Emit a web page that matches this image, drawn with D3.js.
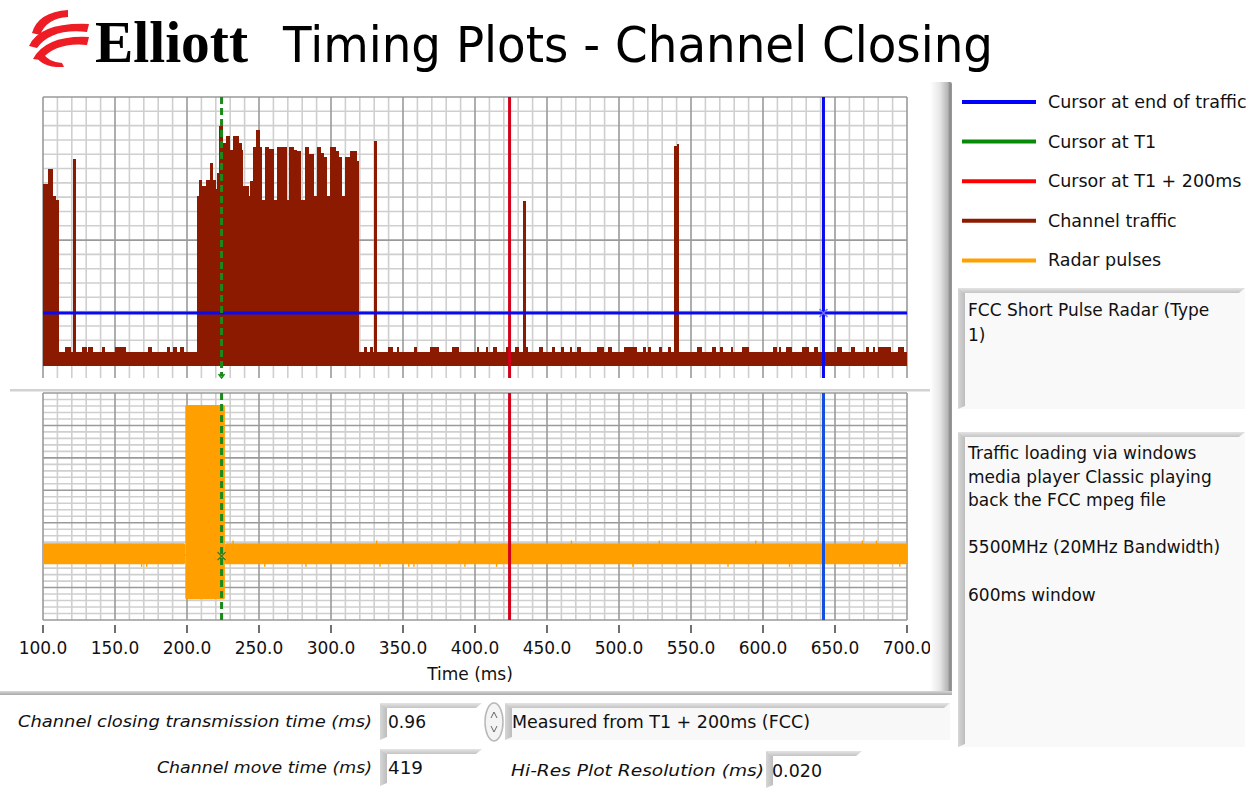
<!DOCTYPE html>
<html>
<head>
<meta charset="utf-8">
<script src="https://cdn.jsdelivr.net/npm/d3@7"></script>
<style>
  body { margin: 0; background: #fff; }
  svg { display: block; font-family: "DejaVu Sans", sans-serif; }
</style>
</head>
<body>
<svg id="chart" width="1254" height="797"></svg>
<script>
// ---- data ----
const timeTicks = [100, 150, 200, 250, 300, 350, 400, 450, 500, 550, 600, 650, 700];

const cursorT1 = 224;
const cursorT1plus200 = 424;
const cursorEndTraffic = 642;
const cursorLevel = -51;      // blue horizontal cursor (top plot)

const trafficFloor = -78;
const trafficBumpLevel = -75;
// [start ms, end ms, level]
const trafficBursts = [
  [100, 103.7, 39], [103.7, 106.7, 50], [106.7, 109, 31], [109, 110.6, 28],
  [120.6, 122.9, 57],
  [206.7, 208.5, 31], [208.5, 210.2, 42], [210.2, 213.2, 38], [213.2, 216, 42],
  [216, 217.8, 54], [217.8, 219.7, 42], [219.7, 221, 36], [221, 222.4, 47],
  [222.4, 224.8, 80], [224.8, 227.1, 68], [227.1, 229.4, 73], [229.4, 231.7, 63],
  [231.7, 235.6, 73], [235.6, 237.5, 68], [237.5, 238.7, 63], [238.7, 242.6, 38],
  [242.6, 243.7, 31], [243.7, 246, 41], [246, 247.9, 65], [247.9, 250.2, 77],
  [250.2, 251.9, 65], [251.9, 254.2, 28], [254.2, 256.5, 65], [256.5, 260, 64],
  [260, 262.3, 28], [262.3, 268.8, 65], [268.8, 271.1, 28], [271.1, 273.9, 65],
  [273.9, 276.2, 63], [276.2, 278.5, 62], [278.5, 282, 28], [282, 284.2, 65],
  [284.2, 287.7, 60], [287.7, 290, 31], [290, 292.4, 65], [292.4, 294.7, 61],
  [294.7, 297, 58], [297, 299.3, 31], [299.3, 302.8, 65], [302.8, 305, 62],
  [305, 307.4, 58], [307.4, 309.7, 31], [309.7, 313.2, 58], [313.2, 317.8, 62],
  [317.8, 319, 55],
  [329.6, 331.3, 69],
  [433, 435.4, 27],
  [537.9, 540.5, 66], [540.5, 541.4, 67.5]
];
// small steps on the noise floor [start ms, end ms]
const floorBumps = [
  [115.3, 119.2], [126.9, 130.3], [131.5, 135], [140.7, 143.1], [150, 157.6],
  [173.2, 175.5], [185.9, 188.2], [190, 192.8], [195.1, 197.9],
  [322.8, 325.3], [327, 329.4], [339.7, 343], [345.5, 347.2], [357.3, 359.9],
  [368.7, 375], [384.3, 388.9], [401.5, 402.7], [407.8, 409], [412.8, 415.3],
  [421.6, 424.2], [428, 430.5], [434.3, 436.8], [444.3, 446.9], [453.2, 455.7],
  [459.5, 462], [465.8, 467.5], [470.8, 473.4], [484.7, 489.7], [492.3, 494.8],
  [503.6, 512.4], [517, 518.7], [520, 522.5], [527.6, 529.6], [533.9, 536.4],
  [554, 557.3], [564.9, 567.4], [569.9, 572.5], [578, 579.5], [585.6, 590.6],
  [607, 609.5], [610.8, 612.8], [615.8, 620.4], [627.2, 632.2], [635.5, 638.5],
  [651.2, 655], [661.2, 663.8], [671.3, 673.8], [676.4, 677.6], [680.2, 689],
  [694, 697.8]
];

// radar envelope [start ms, end ms, low, high]
const radarBands = [
  [100, 198.8, 1.72, 2.37],
  [198.8, 226.3, 0.64, 6.63],
  [226.3, 700, 1.72, 2.37]
];
const radarSpikesUp = [232, 331.7, 389, 467, 528, 595, 669, 678.8];
const radarSpikesDown = [168.5, 172, 254, 282.6, 334, 354, 357.6, 393, 415, 509.7, 575.7, 618.4, 695];

const legendItems = [
  { name: "Cursor at end of traffic", color: "#0000ff" },
  { name: "Cursor at T1", color: "#078a07" },
  { name: "Cursor at T1 + 200ms", color: "#ff0000" },
  { name: "Channel traffic", color: "#8b1a00" },
  { name: "Radar pulses", color: "#ffa000" }
];

const noteBox1 = ["FCC Short Pulse Radar (Type", "1)"];
const noteBox2 = ["Traffic loading via windows", "media player Classic playing",
  "back the FCC mpeg file", "", "5500MHz (20MHz Bandwidth)", "", "600ms window"];

const fieldClosing = "0.96";
const fieldMove = "419";
const fieldResolution = "0.020";
const fieldMeasured = "Measured from T1 + 200ms (FCC)";

// ---- setup ----
const svg = d3.select("#chart");
const defs = svg.append("defs");

function hGrad(id, stops) {
  const g = defs.append("linearGradient").attr("id", id)
    .attr("x1", 0).attr("y1", 0).attr("x2", 1).attr("y2", 0);
  stops.forEach(s => g.append("stop").attr("offset", s[0]).attr("stop-color", s[1]));
}
function vGrad(id, stops) {
  const g = defs.append("linearGradient").attr("id", id)
    .attr("x1", 0).attr("y1", 0).attr("x2", 0).attr("y2", 1);
  stops.forEach(s => g.append("stop").attr("offset", s[0]).attr("stop-color", s[1]));
}
hGrad("frameBar", [[0, "#ffffff"], [0.45, "#e6e6e6"], [0.82, "#b4b4b4"], [0.9, "#8a8a8a"], [1, "#9a9a9a"]]);
vGrad("frameBottom", [[0, "#d8d8d8"], [1, "#a8a8a8"]]);
vGrad("bevelTop", [[0, "#e4e4e4"], [1, "#c4c4c4"]]);
hGrad("bevelLeft", [[0, "#d6d6d6"], [1, "#bdbdbd"]]);

const x = d3.scaleLinear().domain([100, 700]).range([43, 907]);
const yTop = d3.scaleLinear().domain([-88, 100]).range([366, 97]);
const yBot = d3.scaleLinear().domain([0, 7]).range([620, 393]);

// ---- title / logo ----
const logo = svg.append("g").attr("fill", "#ee1c25");
logo.append("path").attr("d", "M32,33 Q38,12 68,10 L68,17 Q47,18 40,35 Z");
logo.append("path").attr("d", "M29,46 Q40,22 89,24 L87,32 Q52,28 37,48 Z");
logo.append("path").attr("d", "M33,59 Q46,35 89,37 L87,45 Q56,42 41,60 Z");
logo.append("path").attr("d", "M36,56 Q42,68 64,67 L62,63 Q48,62 43,53 Z");

svg.append("text").attr("x", 95).attr("y", 62)
  .attr("font-family", "'Liberation Serif', serif").attr("font-weight", "bold")
  .attr("font-size", 60).attr("textLength", 153).attr("lengthAdjust", "spacingAndGlyphs")
  .text("Elliott");

svg.append("text").attr("x", 283).attr("y", 62)
  .attr("font-size", 50).attr("textLength", 710).attr("lengthAdjust", "spacingAndGlyphs")
  .text("Timing Plots - Channel Closing");

// ---- grids ----
const minorColor = "#cfcfcf", majorColor = "#9a9a9a";
const vTicks = x.ticks(60);

function drawGrid(g, yScale, yTicks, isMajorY, top, bottom, vBottom) {
  const vLines = vTicks.map(t => ({ t, major: t % 50 === 0 }));
  const hLines = yTicks.map(v => ({ v, major: isMajorY(v) }));
  [false, true].forEach(maj => {
    g.selectAll(null).data(vLines.filter(d => d.major === maj)).enter().append("line")
      .attr("x1", d => x(d.t)).attr("x2", d => x(d.t))
      .attr("y1", top).attr("y2", vBottom)
      .attr("stroke", maj ? majorColor : minorColor).attr("stroke-width", 1.6);
    g.selectAll(null).data(hLines.filter(d => d.major === maj)).enter().append("line")
      .attr("x1", x(100)).attr("x2", x(700))
      .attr("y1", d => yScale(d.v)).attr("y2", d => yScale(d.v))
      .attr("stroke", maj ? majorColor : minorColor).attr("stroke-width", 1.6);
  });
}

const topG = svg.append("g");
drawGrid(topG, yTop, yTop.ticks(20), v => v % 100 === 0, 97, 366, 378);

const botG = svg.append("g");
drawGrid(botG, yBot, yBot.ticks(35), v => Math.abs(v - Math.round(v)) < 1e-6, 393, 620, 620);

// ---- channel traffic ----
const trafficColor = "#8b1a00";
const tg = topG.append("g").attr("fill", trafficColor).attr("shape-rendering", "crispEdges");
tg.append("rect")
  .attr("x", x(100)).attr("width", x(700) - x(100))
  .attr("y", yTop(trafficFloor)).attr("height", yTop(-88) - yTop(trafficFloor));
tg.selectAll(".bump").data(floorBumps).enter().append("rect")
  .attr("x", d => x(d[0])).attr("width", d => x(d[1]) - x(d[0]))
  .attr("y", yTop(trafficBumpLevel)).attr("height", yTop(-88) - yTop(trafficBumpLevel));
tg.selectAll(".burst").data(trafficBursts).enter().append("rect")
  .attr("x", d => x(d[0])).attr("width", d => x(d[1]) - x(d[0]) + 0.5)
  .attr("y", d => yTop(d[2])).attr("height", d => yTop(-88) - yTop(d[2]));

// ---- radar pulses ----
const radarColor = "#ffa000";
const rg = botG.append("g").attr("fill", radarColor);
rg.selectAll(".band").data(radarBands).enter().append("rect")
  .attr("x", d => x(d[0])).attr("width", d => x(d[1]) - x(d[0]))
  .attr("y", d => yBot(d[3])).attr("height", d => yBot(d[2]) - yBot(d[3]))
  .attr("rx", 1.5);
rg.selectAll(".up").data(radarSpikesUp).enter().append("rect")
  .attr("x", d => x(d) - 0.7).attr("width", 1.4)
  .attr("y", yBot(2.45)).attr("height", yBot(2.2) - yBot(2.45));
rg.selectAll(".down").data(radarSpikesDown).enter().append("rect")
  .attr("x", d => x(d) - 0.7).attr("width", 1.4)
  .attr("y", yBot(1.9)).attr("height", yBot(1.64) - yBot(1.9));

// ---- cursors ----
function vCursor(t, color, width, top, bottom, dash) {
  svg.append("line").attr("x1", x(t)).attr("x2", x(t)).attr("y1", top).attr("y2", bottom)
    .attr("stroke", color).attr("stroke-width", width)
    .attr("stroke-dasharray", dash || null);
}
vCursor(cursorT1plus200, "#d4001c", 3, 97, 378);
vCursor(cursorT1plus200, "#d4001c", 3, 393, 620);
vCursor(cursorEndTraffic, "#0a0af0", 3, 97, 378);
vCursor(cursorEndTraffic, "#1450dc", 3, 393, 620);

svg.append("line").attr("x1", x(100)).attr("x2", x(700))
  .attr("y1", yTop(cursorLevel)).attr("y2", yTop(cursorLevel))
  .attr("stroke", "#0a0af0").attr("stroke-width", 3);

vCursor(cursorT1, "#1a8a1a", 3, 97, 376, "7,4");
vCursor(cursorT1, "#1a8a1a", 3, 393, 620, "7,4");

// cursor markers
svg.append("path")
  .attr("transform", `translate(${x(cursorEndTraffic)},${yTop(cursorLevel)})`)
  .attr("d", "M-4,-4L4,4M-4,4L4,-4").attr("stroke", "#7070ff").attr("stroke-width", 1.5);
svg.append("path")
  .attr("transform", `translate(${x(cursorT1)},${yBot(1.97)})`)
  .attr("d", "M-4,-4L4,4M-4,4L4,-4").attr("stroke", "#2a7a2a").attr("stroke-width", 1.3)
  .attr("fill", "none");
svg.append("path")
  .attr("transform", `translate(${x(cursorT1)},376)`)
  .attr("d", "M-3,-2L0,2L3,-2").attr("stroke", "#1a8a1a").attr("stroke-width", 1.5)
  .attr("fill", "none");

// ---- x axis ----
const axisG = svg.append("g");
axisG.selectAll("line").data(timeTicks).enter().append("line")
  .attr("x1", d => x(d)).attr("x2", d => x(d)).attr("y1", 625).attr("y2", 633)
  .attr("stroke", "#222").attr("stroke-width", 1.3);
axisG.selectAll("text").data(timeTicks).enter().append("text")
  .attr("x", d => x(d)).attr("y", 654).attr("text-anchor", "middle")
  .attr("font-size", 17).attr("fill", "#111")
  .text(d => d3.format(".1f")(d));
svg.append("text").attr("x", 470).attr("y", 680).attr("text-anchor", "middle")
  .attr("font-size", 17).attr("fill", "#111").text("Time (ms)");

// separator between the plots
svg.append("rect").attr("x", 10).attr("y", 389).attr("width", 920).attr("height", 2.5).attr("fill", "#d2d2d2");

// ---- panel frame ----
svg.append("rect").attr("x", 930).attr("y", 82).attr("width", 22).attr("height", 612)
  .attr("fill", "url(#frameBar)").attr("rx", 2);
svg.append("rect").attr("x", 0).attr("y", 691).attr("width", 952).attr("height", 4)
  .attr("fill", "url(#frameBottom)");

// ---- legend ----
const lg = svg.append("g");
legendItems.forEach((d, i) => {
  const cy = 102 + i * 39.6;
  lg.append("line").attr("x1", 962).attr("x2", 1036).attr("y1", cy).attr("y2", cy)
    .attr("stroke", d.color).attr("stroke-width", 4);
  lg.append("text").attr("x", 1048).attr("y", cy + 6).attr("font-size", 17.5)
    .attr("fill", "#111").text(d.name);
});

// ---- bevelled boxes ----
function box(x0, y0, w, h, fill) {
  const g = svg.append("g");
  g.append("rect").attr("x", x0).attr("y", y0).attr("width", w).attr("height", h).attr("fill", fill);
  g.append("path").attr("d", `M${x0},${y0}H${x0 + w}L${x0 + w - 6},${y0 + 5}H${x0 + 7}Z`)
    .attr("fill", "url(#bevelTop)");
  g.append("path").attr("d", `M${x0},${y0}L${x0 + 7},${y0 + 5}V${y0 + h - 3}L${x0},${y0 + h}Z`)
    .attr("fill", "url(#bevelLeft)");
  return g;
}

function textLines(lines, x0, y0, step) {
  const t = svg.append("text").attr("font-size", 17).attr("fill", "#111");
  lines.forEach((s, i) => {
    t.append("tspan").attr("x", x0).attr("y", y0 + i * step).text(s);
  });
}

box(958, 288, 287, 121, "#f9f9f9");
textLines(noteBox1, 968, 316, 24.5);
box(958, 432, 287, 315, "#f9f9f9");
textLines(noteBox2, 968, 459, 23.6);

// ---- bottom fields ----
function label(s, xr, y, w) {
  svg.append("text").attr("x", xr - w).attr("y", y).attr("font-size", 16.5)
    .attr("font-style", "italic").attr("fill", "#111")
    .attr("textLength", w).attr("lengthAdjust", "spacingAndGlyphs").text(s);
}
label("Channel closing transmission time (ms)", 372, 727, 354);
label("Channel move time (ms)", 372, 773, 215);
label("Hi-Res Plot Resolution (ms)", 764, 776, 253);

box(380, 703, 102, 37, "#ffffff");
box(505, 703, 445, 37, "#f8f8f8");
box(380, 749, 102, 37, "#ffffff");
box(766, 751, 96, 37, "#ffffff");

function value(s, x0, y, w) {
  svg.append("text").attr("x", x0).attr("y", y).attr("font-size", 17).attr("fill", "#111")
    .attr("textLength", w).attr("lengthAdjust", "spacingAndGlyphs").text(s);
}
value(fieldClosing, 388, 728, 38);
value(fieldMeasured, 512, 728, 298);
value(fieldMove, 388, 774, 35);
value(fieldResolution, 772, 777, 50);

// spinner
const sp = svg.append("g");
sp.append("ellipse").attr("cx", 494).attr("cy", 722).attr("rx", 9).attr("ry", 19)
  .attr("fill", "#f4f4f4").attr("stroke", "#b8b8b8").attr("stroke-width", 1.5);
sp.append("path").attr("d", "M491,718L494,712L497,718").attr("fill", "none").attr("stroke", "#666").attr("stroke-width", 1);
sp.append("path").attr("d", "M491,726L494,732L497,726").attr("fill", "none").attr("stroke", "#666").attr("stroke-width", 1);
</script>
</body>
</html>
